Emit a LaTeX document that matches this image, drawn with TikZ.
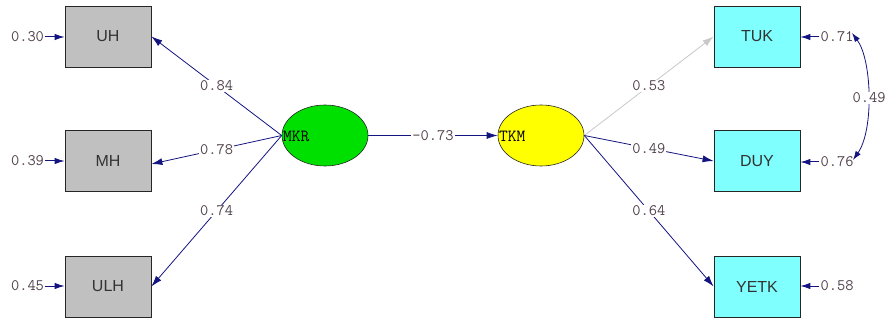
\documentclass[tikz,border=0pt]{standalone}
\usepackage{fontspec}
\setmainfont{Liberation Sans}
\usetikzlibrary{arrows.meta,shapes.geometric}
\definecolor{navy}{RGB}{20,20,128}
\definecolor{boxgray}{RGB}{192,192,192}
\definecolor{boxcyan}{RGB}{128,255,255}
\definecolor{latgreen}{RGB}{0,224,0}
\definecolor{latyellow}{RGB}{255,255,0}
\definecolor{lightarr}{RGB}{200,200,200}
\definecolor{numcol}{RGB}{80,65,75}
\tikzset{
  obs/.style={draw=black!85, line width=0.8pt, minimum width=86pt, minimum height=61pt, inner sep=0pt, font=\fontsize{16}{16}\selectfont, text=black!80},
  lat/.style={draw=black!85, line width=0.6pt, ellipse, minimum width=86pt, minimum height=61pt, inner sep=0pt},
  num/.style={font=\ttfamily\fontsize{16}{16}\selectfont, text=numcol, inner sep=1pt},
  lbl/.style={num, fill=white},
  latlbl/.style={font=\ttfamily\fontsize{17}{17}\selectfont, anchor=west, inner sep=0pt},
  path arr/.style={navy, line width=0.8pt, -{Latex[length=11pt,width=7pt]}},
  err arr/.style={navy, line width=1pt, -{Latex[length=10pt,width=6.5pt]}},
}
\begin{document}
\begin{tikzpicture}[x=1pt,y=-1pt]
\useasboundingbox (0,0) rectangle (885,323);
% observed boxes
\node[obs, fill=boxgray] (UH) at (108,36.5) {UH};
\node[obs, fill=boxgray] (MH) at (108,161) {MH};
\node[obs, fill=boxgray] (ULH) at (108,286.5) {ULH};
\node[obs, fill=boxcyan] (TUK) at (757,36.5) {TUK};
\node[obs, fill=boxcyan] (DUY) at (757,161) {DUY};
\node[obs, fill=boxcyan] (YETK) at (757,286.5) {YETK};
% latent
\node[lat, fill=latgreen] (MKR) at (325,135.5) {};
\node[lat, fill=latyellow] (TKM) at (541,135.5) {};
\node[latlbl] (MKRt) at (283,136) {MKR};
\node[latlbl] (TKMt) at (499,136) {TKM};
% paths
\draw[path arr] (MKR.west) -- node[lbl, pos=0.5] {0.84} (UH.east);
\draw[path arr] (MKR.west) -- node[lbl, pos=0.5] {0.78} ([yshift=-3pt]MH.east);
\draw[path arr] (MKR.west) -- node[lbl, pos=0.5] {0.74} (ULH.east);
\draw[path arr] (MKR.east) -- node[lbl, pos=0.5] {-0.73} (TKM.west);
\draw[path arr, lightarr] (TKM.east) -- node[lbl, pos=0.5] {0.53} (TUK.west);
\draw[path arr] (TKM.east) -- node[lbl, pos=0.5] {0.49} (DUY.west);
\draw[path arr] (TKM.east) -- node[lbl, pos=0.5] {0.64} (YETK.west);
% error terms
\node[num] (eUH) at (27.5,37) {0.30};
\node[num] (eMH) at (27.5,161) {0.39};
\node[num] (eULH) at (27.5,286) {0.45};
\node[num] (eTUK) at (837,37) {0.71};
\node[num] (eDUY) at (837,162) {0.76};
\node[num] (eYETK) at (837,286) {0.58};
\draw[err arr] (eUH.east) -- (UH.west |- eUH.east);
\draw[err arr] (eMH.east) -- (MH.west |- eMH.east);
\draw[err arr] (eULH.east) -- (ULH.west |- eULH.east);
\draw[err arr] (eTUK.west) -- (TUK.east |- eTUK.west);
\draw[err arr] (eDUY.west) -- (DUY.east |- eDUY.west);
\draw[err arr] (eYETK.west) -- (YETK.east |- eYETK.west);
% covariance
\coordinate (c1) at (852,33);
\coordinate (c2) at (853,160);
\draw[navy, line width=0.8pt, {Latex[length=9pt,width=6pt]}-{Latex[length=9pt,width=6pt]}] (c1) .. controls (872,60) and (874,130) .. (c2);
\node[lbl] (cov) at (869,98) {0.49};
\end{tikzpicture}
\end{document}
